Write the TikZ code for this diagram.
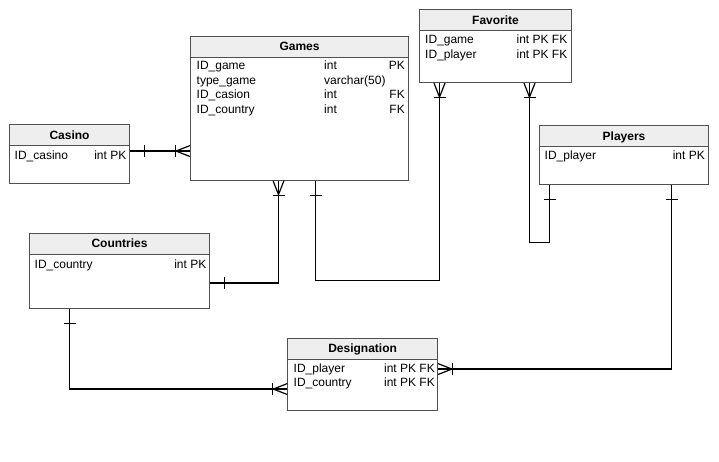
\documentclass[tikz,border=0pt]{standalone}
\usepackage{fontspec}
\setmainfont{Liberation Sans}
\definecolor{boxgray}{HTML}{505050}
\definecolor{headgray}{HTML}{EEEEEE}
\begin{document}
\begin{tikzpicture}[x=1pt, y=-1pt, font=\fontsize{12}{14}\selectfont,
	tbl/.style={draw=boxgray, line width=1.1pt, anchor=north west, inner sep=0, fill=white},
	head/.style={draw=boxgray, fill=headgray, line width=1.1pt, anchor=north west, inner sep=0,
		minimum height=21pt, text height=8.4pt, text depth=0pt, font=\fontsize{12}{14}\selectfont\bfseries},
	fld/.style={anchor=base west, inner sep=0},
	key/.style={anchor=base east, inner sep=0},
	link/.style={draw=black, line width=1.2pt},
	pics/many/.style={code={
		\draw[link] (0,-5.5) -- (14,0) -- (0,5.5);
		\draw[link] (14.5,-6) -- (14.5,6);}},
	pics/one/.style={code={\draw[link] (14.5,-6) -- (14.5,6);}}]
	\useasboundingbox (0,0) rectangle (719,461);

	% Games
	\node [tbl, minimum width=218pt, minimum height=144pt] (games) at (190,35.5) {};
	\node [head, minimum width=218pt] (gamesh) at (190,35.5) {Games};
	\node [fld] (g1) at (196.5,69.5) {ID\_game};
	\node [fld] (g2) at (196.5,84) {type\_game};
	\node [fld] (g3) at (196.5,98.5) {ID\_casion};
	\node [fld] (g4) at (196.5,113) {ID\_country};
	\node [fld] (g1t) at (324,69.5) {int};
	\node [fld] (g2t) at (324,84) {varchar(50)};
	\node [fld] (g3t) at (324,98.5) {int};
	\node [fld] (g4t) at (324,113) {int};
	\node [key] (g1k) at (405,69.5) {PK};
	\node [key] (g3k) at (405,98.5) {FK};
	\node [key] (g4k) at (405,113) {FK};

	% Favorite
	\node [tbl, minimum width=152pt, minimum height=73pt] (fav) at (419,9) {};
	\node [head, minimum width=152pt] (favh) at (419,9) {Favorite};
	\node [fld] (f1) at (425,43.5) {ID\_game};
	\node [fld] (f2) at (425,58) {ID\_player};
	\node [key] (f1k) at (567.5,43.5) {int PK FK};
	\node [key] (f2k) at (567.5,58) {int PK FK};

	% Casino
	\node [tbl, minimum width=120pt, minimum height=59pt] (casino) at (9,124) {};
	\node [head, minimum width=120pt] (casinoh) at (9,124) {Casino};
	\node [fld] (c1) at (14.5,159.5) {ID\_casino};
	\node [key] (c1k) at (126.5,159.5) {int PK};

	% Players
	\node [tbl, minimum width=169pt, minimum height=59pt] (players) at (539,125) {};
	\node [head, minimum width=169pt] (playersh) at (539,125) {Players};
	\node [fld] (p1) at (544.5,159.5) {ID\_player};
	\node [key] (p1k) at (705,159.5) {int PK};

	% Countries
	\node [tbl, minimum width=180pt, minimum height=75pt] (countries) at (29,232.5) {};
	\node [head, minimum width=180pt] (countriesh) at (29,232.5) {Countries};
	\node [fld] (k1) at (34.5,268) {ID\_country};
	\node [key] (k1k) at (206.5,268) {int PK};

	% Designation
	\node [tbl, minimum width=149.5pt, minimum height=72.5pt] (desig) at (287.3,337.5) {};
	\node [head, minimum width=149.5pt] (desigh) at (287.3,337.5) {Designation};
	\node [fld] (d1) at (293.5,372) {ID\_player};
	\node [fld] (d2) at (293.5,386.5) {ID\_country};
	\node [key] (d1k) at (435,372) {int PK FK};
	\node [key] (d2k) at (435,386.5) {int PK FK};

	% relations
	\coordinate (cg) at ([yshift=3pt]casino.east);
	\draw [link] (cg) -- (cg -| games.west);
	\pic at (cg) {one};
	\pic [rotate=180] at (cg -| games.west) {many};

	\coordinate (gk) at ([xshift=88.5pt]games.south west);
	\coordinate (kg) at ([yshift=-12.5pt]countries.east);
	\draw [link] (gk) |- (kg);
	\pic [rotate=-90] at (gk) {many};
	\pic at (kg) {one};

	\coordinate (gf) at ([xshift=125.5pt]games.south west);
	\coordinate (fg) at ([xshift=20.5pt]fav.south west);
	\draw [link] (gf) -- ++(0,100) -| (fg);
	\pic [rotate=-90] at (gf) {one};
	\pic [rotate=-90] at (fg) {many};

	\coordinate (fp) at ([xshift=110.5pt]fav.south west);
	\coordinate (pf) at ([xshift=10.5pt]players.south west);
	\draw [link] (fp) |- (pf |- 0,242.5) -- (pf);
	\pic [rotate=-90] at (fp) {many};
	\pic [rotate=-90] at (pf) {one};

	\coordinate (pd) at ([xshift=132.5pt]players.south west);
	\coordinate (dp) at ([yshift=5.25pt]desig.east);
	\draw [link] (pd) |- (dp);
	\pic [rotate=-90] at (pd) {one};
	\pic at (dp) {many};

	\coordinate (kd) at ([xshift=40.5pt]countries.south west);
	\coordinate (dk) at ([yshift=-14.75pt]desig.west);
	\draw [link] (kd) |- (dk);
	\pic [rotate=-90] at (kd) {one};
	\pic [rotate=180] at (dk) {many};
\end{tikzpicture}
\end{document}
